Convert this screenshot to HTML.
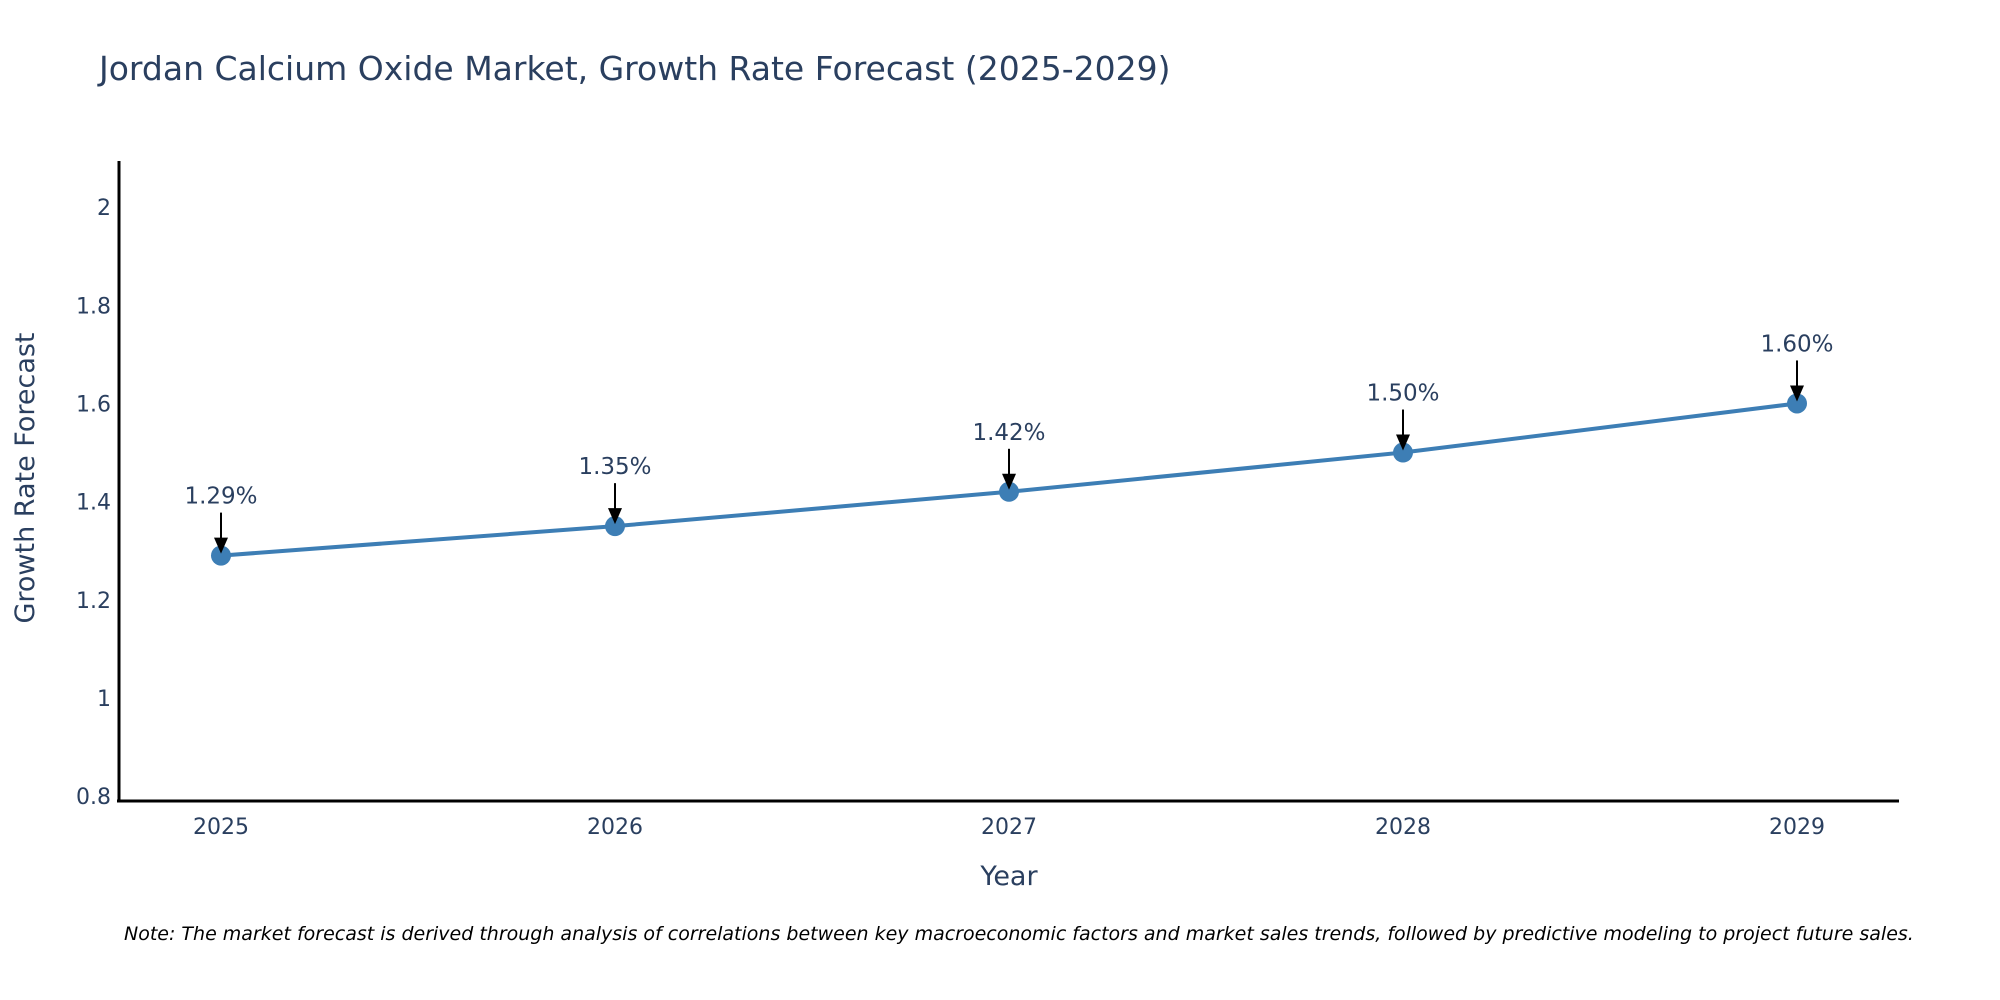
<!DOCTYPE html>
<html><head><meta charset="utf-8"><style>
html,body{margin:0;padding:0;background:#fff;}
svg{display:block;font-family:"DejaVu Sans","Liberation Sans",sans-serif;}
</style></head><body>
<svg id="chart" width="2000" height="1000" viewBox="0 0 2000 1000">
<text x="99" y="80" font-size="33" fill="#2a3f5f">Jordan Calcium Oxide Market, Growth Rate Forecast (2025-2029)</text>
<g id="yticks"></g>
<g id="xticks"></g>
<line x1="119" y1="161" x2="119" y2="802" stroke="#000" stroke-width="3"/>
<line x1="117" y1="801" x2="1899" y2="801" stroke="#000" stroke-width="3"/>
<text transform="translate(34,478) rotate(-90)" text-anchor="middle" font-size="27" fill="#2a3f5f">Growth Rate Forecast</text>
<text x="1009" y="885" text-anchor="middle" font-size="27" fill="#2a3f5f">Year</text>
<g id="series"></g>
<g id="annots"></g>
<text x="124" y="940" font-size="19" font-style="italic" fill="#000">Note: The market forecast is derived through analysis of correlations between key macroeconomic factors and market sales trends, followed by predictive modeling to project future sales.</text>
</svg>
<script>
const years = ["2025","2026","2027","2028","2029"];
const growthValues = [1.29, 1.35, 1.42, 1.50, 1.60];
const valueLabels = ["1.29%","1.35%","1.42%","1.50%","1.60%"];
const yTickValues = [0.8, 1, 1.2, 1.4, 1.6, 1.8, 2];
const yTickLabels = ["0.8","1","1.2","1.4","1.6","1.8","2"];

const NS = "http://www.w3.org/2000/svg";
const yMin = 0.79, yMax = 2.094, pxTop = 161, pxBot = 801;
function yScale(v){ return pxBot - (v - yMin) / (yMax - yMin) * (pxBot - pxTop); }
const xFirst = 221, xLast = 1797;
function xScale(i){ return xFirst + i * (xLast - xFirst) / (years.length - 1); }
function mk(tag, attrs){ const e = document.createElementNS(NS, tag); for (const k in attrs) e.setAttribute(k, attrs[k]); return e; }

const yt = document.getElementById('yticks');
yTickValues.forEach((v, i) => {
  const t = mk('text', {x: 111, y: yScale(v) + 8, 'text-anchor': 'end', 'font-size': 22, fill: '#2a3f5f'});
  
  
  t.textContent = yTickLabels[i];
  yt.appendChild(t);
});
const xt = document.getElementById('xticks');
years.forEach((y, i) => {
  const t = mk('text', {x: xScale(i), y: 834, 'text-anchor': 'middle', 'font-size': 22, fill: '#2a3f5f'});
  
  
  t.textContent = y;
  xt.appendChild(t);
});

const s = document.getElementById('series');
const pts = growthValues.map((v, i) => xScale(i) + ',' + yScale(v)).join(' ');
const line = mk('polyline', {points: pts, fill: 'none', stroke: '#3d7eb5', 'stroke-width': 4});


s.appendChild(line);
growthValues.forEach((v, i) => {
  const c = mk('circle', {cx: xScale(i), cy: yScale(v), r: 10, fill: '#3d7eb5'});
  
  
  s.appendChild(c);
});

const a = document.getElementById('annots');
growthValues.forEach((v, i) => {
  const x = xScale(i), y = yScale(v);
  const t = mk('text', {x: x, y: y - 52, 'text-anchor': 'middle', 'font-size': 23, fill: '#2a3f5f'});
  
  
  t.textContent = valueLabels[i];
  a.appendChild(t);
  const l = mk('line', {x1: x, y1: y - 43, x2: x, y2: y - 14, stroke: '#000', 'stroke-width': 2});
  
  
  a.appendChild(l);
  const h = mk('polygon', {points: (x-7)+','+(y-18)+' '+(x+7)+','+(y-18)+' '+x+','+(y-2), fill: '#000'});
  
  
  a.appendChild(h);
});
</script>
</body></html>
